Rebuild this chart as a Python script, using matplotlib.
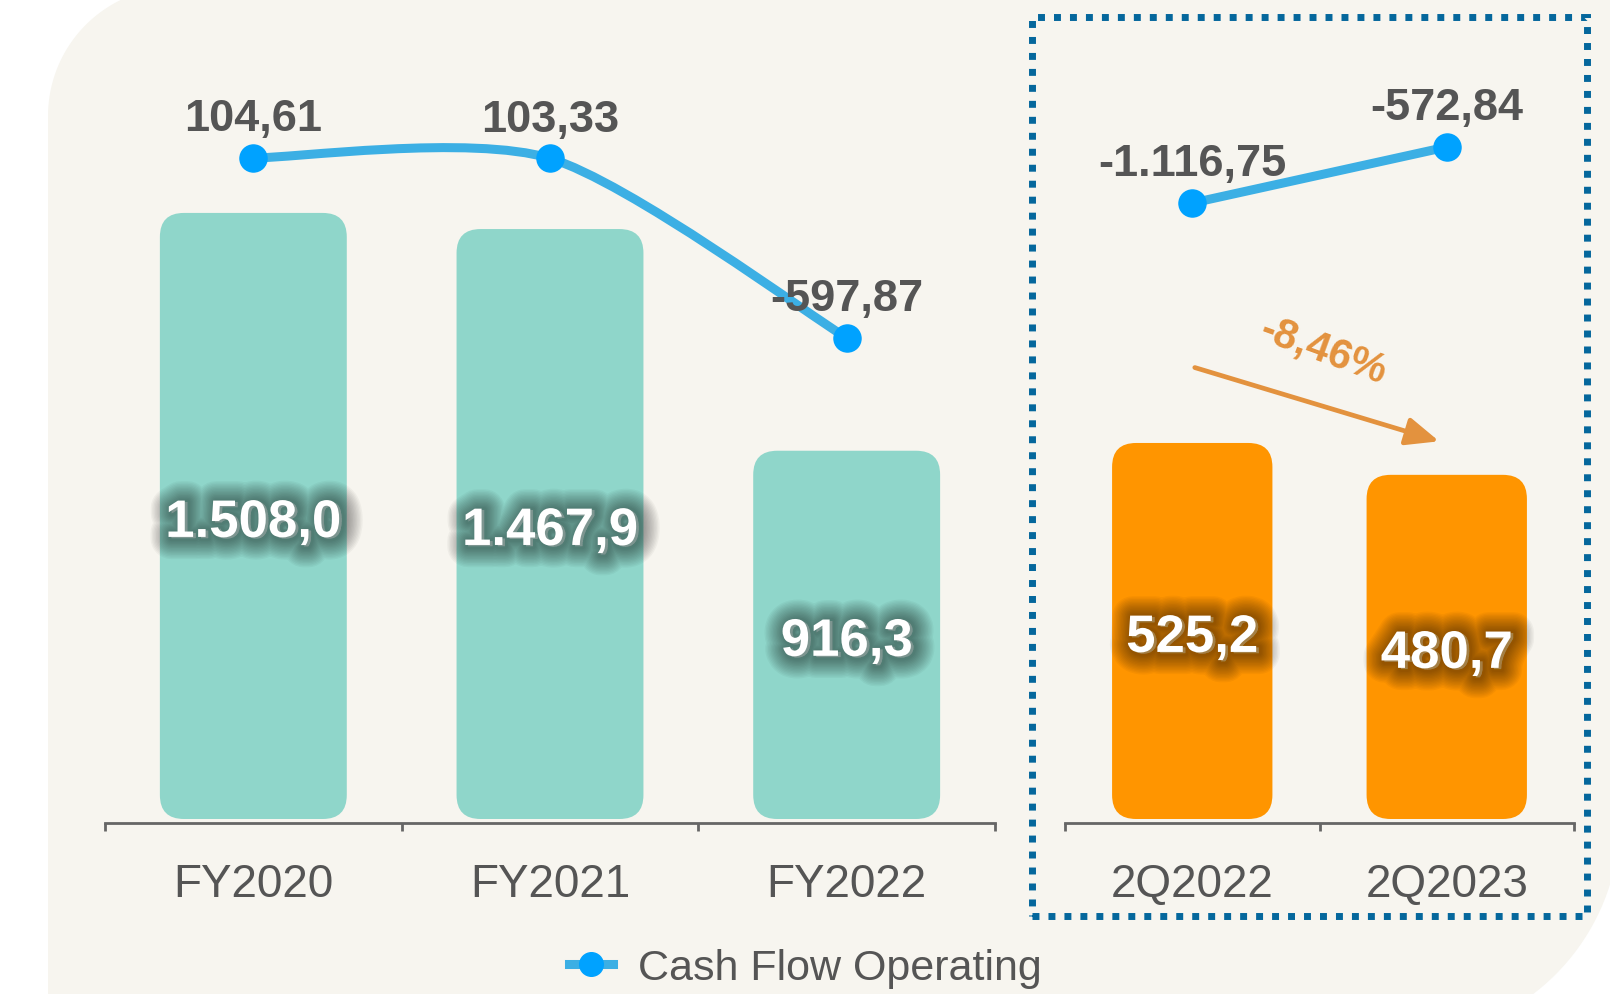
import numpy as np
import matplotlib
matplotlib.use('Agg')
import matplotlib.pyplot as plt
import matplotlib.patheffects as pe
from matplotlib.patches import FancyBboxPatch, PathPatch, Rectangle, Polygon
from matplotlib.path import Path
from matplotlib.lines import Line2D

plt.rcParams['font.family'] = ['Liberation Sans', 'DejaVu Sans']

# data
fy_labels = ['FY2020', 'FY2021', 'FY2022']
fy_revenue = [1508.0, 1467.9, 916.3]
fy_cash = [104.61, 103.33, -597.87]

q_labels = ['2Q2022', '2Q2023']
q_revenue = [525.2, 480.7]
q_cash = [-1116.75, -572.84]
q_change = '-8,46%'

legend_label = 'Cash Flow Operating'

# colours
TEAL = '#8FD6CA'
ORANGE = '#FF9500'
LINE_C = '#3CAFE4'
DOT_C = '#00A2FF'
TEXT_C = '#555555'
ARROW_C = '#E3923E'
BOX_C = '#05679C'
BG_C = '#F7F5EF'

W, H = 1610, 995


def fmt(v, d):
    s = f"{v:,.{d}f}"
    return s.replace(',', '#').replace('.', ',').replace('#', '.')


def fx(x):
    return x / W


def fy(y):
    return 1 - y / H


fig = plt.figure(figsize=(W / 100, H / 100), dpi=100)
fig.patch.set_facecolor('white')

# beige panel with rounded top-left / bottom-right corners
t1 = np.linspace(np.pi, 1.5 * np.pi, 40)
t2 = np.linspace(0, 0.5 * np.pi, 40)
pts = [(48, 1040), (48, 117)]
pts += [(177 + 129 * np.cos(t), 117 + 129 * np.sin(t)) for t in t1]
pts += [(1620, -12), (1620, 820)]
pts += [(1400 + 220 * np.cos(t), 820 + 220 * np.sin(t)) for t in t2]
pts += [(48, 1040)]
bg = Polygon([(fx(x), fy(y)) for x, y in pts], closed=True,
             transform=fig.transFigure, fc=BG_C, ec='none', zorder=-1)
fig.add_artist(bg)

# soft dark halo behind the white bar labels
glow = [pe.Stroke(offset=(2, -1), linewidth=lw, foreground='black', alpha=0.036,
                  joinstyle='round')
        for lw in range(30, 2, -2)] + [pe.Normal()]


def rounded_bars(ax, values, color, width=0.63, radius_px=24):
    bars = ax.bar(range(len(values)), values, width=width, color=color)
    p0 = ax.transData.transform((0, 0))
    p1 = ax.transData.transform((1, 1))
    sx, sy = p1[0] - p0[0], p1[1] - p0[1]
    for b in bars:
        b.set_visible(False)
        patch = FancyBboxPatch((b.get_x(), b.get_y()), b.get_width(), b.get_height(),
                               boxstyle=f"round,pad=0,rounding_size={radius_px / sx}",
                               mutation_aspect=sx / sy, fc=color, ec='none', zorder=2)
        ax.add_patch(patch)
    for i, v in enumerate(values):
        ax.annotate(fmt(v, 1), (i, v / 2), xytext=(0, -5), textcoords='offset points',
                    ha='center', va='center', color='white', fontsize=38,
                    fontweight='bold', path_effects=glow, zorder=3)


def smooth_path(xs, ys, k=0.8):
    p = np.column_stack([xs, ys]).astype(float)
    n = len(p)
    verts, codes = [p[0]], [Path.MOVETO]
    for i in range(n - 1):
        a, b, c, d = p[max(i - 1, 0)], p[i], p[i + 1], p[min(i + 2, n - 1)]
        verts += [b + k * (c - a) / 6, c - k * (d - b) / 6, c]
        codes += [Path.CURVE4] * 3
    return Path(verts, codes)


def setup_axes(rect, labels, values, color, ylim_bar, cash, ylim_line):
    ax = fig.add_axes(rect)
    n = len(labels)
    ax.set_xlim(-0.5, n - 0.5)
    ax.set_ylim(*ylim_bar)
    ax.patch.set_visible(False)
    for s in ['left', 'top', 'right']:
        ax.spines[s].set_visible(False)
    ax.spines['bottom'].set_position(('outward', 3))
    ax.spines['bottom'].set_color('#666666')
    ax.spines['bottom'].set_linewidth(2)
    ax.set_yticks([])
    ax.set_xticks(range(n))
    ax.set_xticklabels(labels, fontsize=33, color=TEXT_C)
    ax.set_xticks(np.arange(-0.5, n), minor=True)
    ax.tick_params(axis='x', which='major', length=0, pad=28)
    ax.tick_params(axis='x', which='minor', length=6, width=2, color='#666666')
    rounded_bars(ax, values, color)

    ax2 = ax.twinx()
    ax2.set_ylim(*ylim_line)
    for s in ax2.spines.values():
        s.set_visible(False)
    ax2.set_yticks([])
    ax2.add_patch(PathPatch(smooth_path(range(n), cash), fill=False, ec=LINE_C,
                            lw=6.5, capstyle='round', zorder=3))
    ax2.plot(range(n), cash, 'o', ms=19.5, color=DOT_C, zorder=4, clip_on=False)
    for i, v in enumerate(cash):
        ax2.annotate(fmt(v, 2), (i, v), xytext=(0, 20), textcoords='offset points',
                     ha='center', va='baseline', fontsize=32.5, fontweight='bold',
                     color=TEXT_C, zorder=5)
    return ax, ax2


ax_l, ax_l2 = setup_axes([fx(105), 175 / H, 890 / W, 760 / H], fy_labels, fy_revenue,
                         TEAL, (0, 1891), fy_cash, (-2477, 491.4))
ax_r, ax_r2 = setup_axes([fx(1065), 175 / H, 509 / W, 760 / H], q_labels, q_revenue,
                         ORANGE, (0, 1061.5), q_cash, (-7097, 281.6))

# change arrow
ax_r.annotate('', xy=(0.735, 0.497), xytext=(0.255, 0.594), xycoords='axes fraction',
              arrowprops=dict(arrowstyle='-|>,head_length=2.0,head_width=0.85',
                              color=ARROW_C, lw=3.4, shrinkA=0, shrinkB=0,
                              mutation_scale=10))
ax_r.text(0.508, 0.617, q_change, transform=ax_r.transAxes, rotation=-20,
          rotation_mode='anchor', ha='center', va='center', fontsize=30,
          fontweight='bold', color=ARROW_C)

# dotted highlight box
box = Rectangle((fx(1032), fy(917)), 555 / W, 899.5 / H, transform=fig.transFigure,
                fill=False, ec=BOX_C, lw=5, linestyle=(0, (1, 1.3)), zorder=2)
fig.add_artist(box)

handle = Line2D([], [], color=LINE_C, lw=6.5, marker='o', ms=17,
                markerfacecolor=DOT_C, markeredgecolor=DOT_C)
fig.legend(handles=[handle], labels=[legend_label], loc='center',
           bbox_to_anchor=(0.5005, fy(969)), frameon=False, fontsize=31,
           handlelength=1.0, handletextpad=0.6, labelcolor=TEXT_C)

fig.savefig('out.png', dpi=100, facecolor='white')
